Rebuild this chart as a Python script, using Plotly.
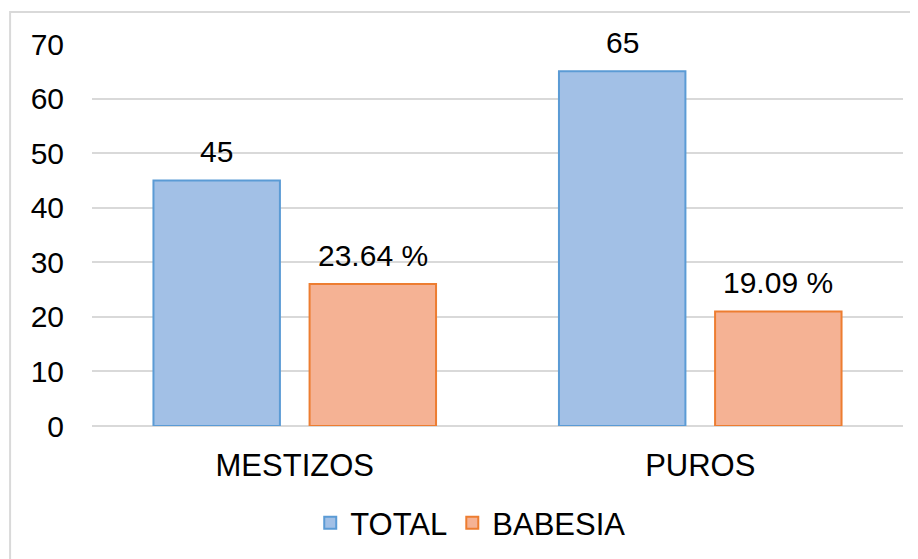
import plotly.graph_objects as go

categories = ["MESTIZOS", "PUROS"]
total = [45, 65]
babesia = [26, 21]
total_labels = ["45", "65"]
babesia_labels = ["23.64 %", "19.09 %"]

font_name = "Liberation Sans, Arial, sans-serif"

fig = go.Figure()
fig.add_trace(go.Bar(x=categories, y=total, name="TOTAL",
                     marker=dict(color="#A2C0E6", line=dict(color="#5B9BD5", width=2))))
fig.add_trace(go.Bar(x=categories, y=babesia, name="BABESIA",
                     marker=dict(color="#F5B294", line=dict(color="#ED7D31", width=2))))

# data labels above the bars (bars sit 78px either side of the category centre)
for cat, v, lab in zip(categories, total, total_labels):
    fig.add_annotation(x=cat, y=v, text=lab, showarrow=False, xshift=-78,
                       yanchor="bottom", yshift=10, font=dict(size=30, color="black"))
for cat, v, lab in zip(categories, babesia, babesia_labels):
    fig.add_annotation(x=cat, y=v, text=lab, showarrow=False, xshift=78,
                       yanchor="bottom", yshift=10, font=dict(size=30, color="black"))

# outer chart border
fig.add_shape(type="rect", xref="paper", yref="paper",
              x0=-0.101, y0=-0.5, x1=1.1, y1=1.084,
              line=dict(color="#D9D9D9", width=2), layer="below")

fig.update_layout(width=918, height=559,
                  margin=dict(l=84, r=23, t=36, b=141, autoexpand=False),
                  paper_bgcolor="white", plot_bgcolor="white",
                  font=dict(family=font_name, size=30, color="black"),
                  bargap=0.23, bargroupgap=0.19,
                  showlegend=True,
                  legend=dict(orientation="h", x=0.467, xanchor="center",
                              y=-0.254, yanchor="middle",
                              font=dict(size=31), itemwidth=30))
fig.update_yaxes(range=[0, 70], dtick=10, showgrid=True, gridcolor="#D9D9D9", gridwidth=2,
                 zeroline=True, zerolinecolor="#D9D9D9", zerolinewidth=2,
                 showline=False, ticks="", ticklabelstandoff=27,
                 tickfont=dict(size=30))
fig.update_xaxes(showline=False, ticks="", ticklabelstandoff=18, tickfont=dict(size=31))

fig.write_html("out.html")
